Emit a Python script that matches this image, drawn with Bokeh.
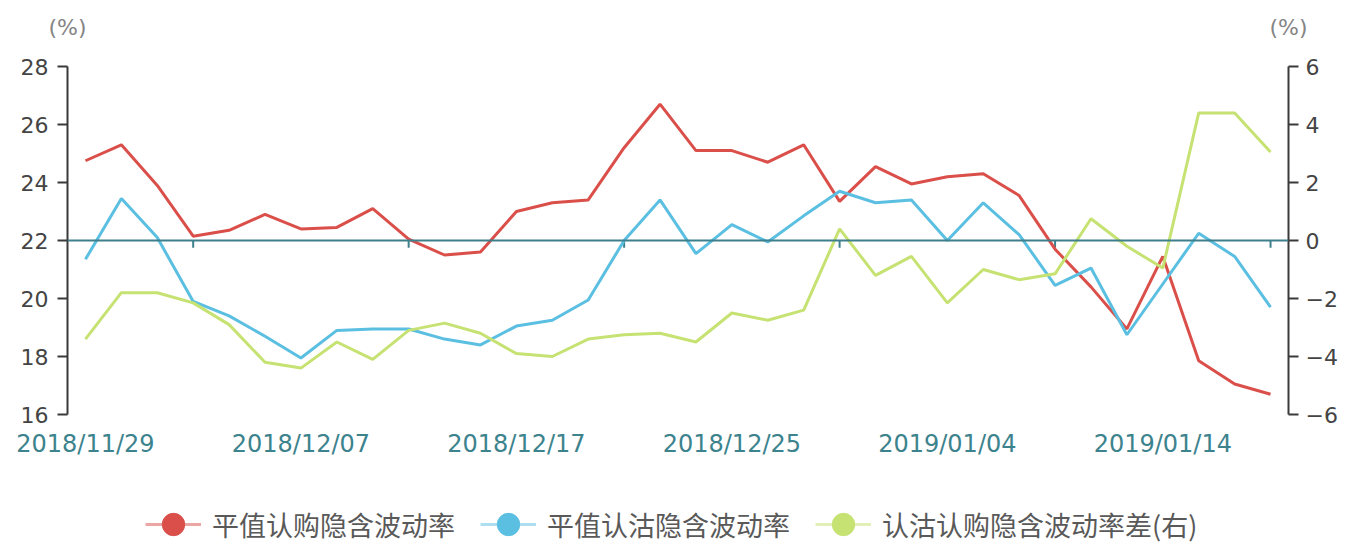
from bokeh.plotting import figure
from bokeh.layouts import column
from bokeh.models import (ColumnDataSource, Range1d, LinearAxis, FixedTicker, Span,
                          Legend, LegendItem)
from bokeh.embed import file_html
from bokeh.resources import INLINE

# ---------------- data ----------------
dates = ["2018/11/29", "2018/11/30", "2018/12/03", "2018/12/04", "2018/12/05", "2018/12/06",
         "2018/12/07", "2018/12/10", "2018/12/11", "2018/12/12", "2018/12/13", "2018/12/14",
         "2018/12/17", "2018/12/18", "2018/12/19", "2018/12/20", "2018/12/21", "2018/12/24",
         "2018/12/25", "2018/12/26", "2018/12/27", "2018/12/28", "2019/01/02", "2019/01/03",
         "2019/01/04", "2019/01/07", "2019/01/08", "2019/01/09", "2019/01/10", "2019/01/11",
         "2019/01/14", "2019/01/15", "2019/01/16", "2019/01/17"]
call_iv = [24.75, 25.3, 23.9, 22.15, 22.35, 22.9, 22.4, 22.45, 23.1, 22.05, 21.5, 21.6,
           23.0, 23.3, 23.4, 25.2, 26.7, 25.1, 25.1, 24.7, 25.3, 23.35, 24.55, 23.95,
           24.2, 24.3, 23.55, 21.7, 20.4, 18.95, 21.45, 17.85, 17.05, 16.7]
put_iv = [21.35, 23.45, 22.1, 19.9, 19.4, 18.7, 17.95, 18.9, 18.95, 18.95, 18.6, 18.4,
          19.05, 19.25, 19.95, 22.0, 23.4, 21.55, 22.55, 21.95, 22.85, 23.7, 23.3, 23.4,
          22.0, 23.3, 22.2, 20.45, 21.05, 18.75, 20.5, 22.25, 21.45, 19.7]
iv_spread = [-3.4, -1.8, -1.8, -2.15, -2.9, -4.2, -4.4, -3.5, -4.1, -3.1, -2.85, -3.2,
             -3.9, -4.0, -3.4, -3.25, -3.2, -3.5, -2.5, -2.75, -2.4, 0.4, -1.2, -0.55,
             -2.15, -1.0, -1.35, -1.15, 0.75, -0.2, -0.95, 4.4, 4.4, 3.05]
left_ticks = [16, 18, 20, 22, 24, 26, 28]
right_ticks = [-6, -4, -2, 0, 2, 4, 6]
legend_names = ["平值认购隐含波动率", "平值认沽隐含波动率", "认沽认购隐含波动率差(右)"]
unit_text = "(%)"
label_step = 6

# ---------------- styling ----------------
RED = "#DA4F4A"
BLUE = "#5BBFE1"
GREEN = "#C6E272"
TEAL = "#3E7F8C"
AXIS = "#3a3a3a"
TXT = "#444444"
W = 1346
ML, MR = 67, 58

idx = list(range(len(dates)))
src = ColumnDataSource(dict(x=idx, call=call_iv, put=put_iv, spread=iv_spread))

lo, hi = left_ticks[0], left_ticks[-1]
rlo, rhi = right_ticks[0], right_ticks[-1]

# ---------------- main chart ----------------
p = figure(width=W, height=460, output_backend="svg", toolbar_location=None,
           x_range=Range1d(-0.5, len(dates) - 0.5), y_range=Range1d(lo, hi),
           min_border_left=ML, min_border_right=MR, min_border_top=66, min_border_bottom=45)
p.outline_line_color = None
p.grid.visible = False
p.background_fill_color = "white"
p.border_fill_color = "white"
p.extra_y_ranges = {"spread": Range1d(rlo, rhi)}
p.extra_x_ranges = {"unit": Range1d(0, 1)}

# x axis (labels only; the axis line is drawn at the 22 / 0 level)
xa = p.xaxis[0]
label_idx = idx[::label_step]
xa.ticker = FixedTicker(ticks=label_idx)
xa.major_label_overrides = {i: dates[i] for i in label_idx}
xa.axis_line_color = None
xa.major_tick_line_color = None
xa.minor_tick_line_color = None
xa.major_label_text_color = "#3C838D"
xa.major_label_text_font = "DejaVu Sans"
xa.major_label_text_font_size = "24px"
xa.major_label_standoff = 9

# unit labels "(%)" above the two value axes
ua = LinearAxis(x_range_name="unit", ticker=FixedTicker(ticks=[0, 1]),
                major_label_overrides={0: unit_text, 1: unit_text})
ua.axis_line_color = None
ua.major_tick_line_color = None
ua.minor_tick_line_color = None
ua.major_tick_out = 0
ua.major_label_text_color = "#858585"
ua.major_label_text_font = "DejaVu Sans"
ua.major_label_text_font_size = "22px"
ua.major_label_standoff = 27
p.add_layout(ua, "above")

# left axis
ya = p.yaxis[0]
ya.ticker = FixedTicker(ticks=left_ticks)
ya.axis_line_color = AXIS
ya.axis_line_width = 2
ya.major_tick_line_color = AXIS
ya.major_tick_line_width = 2
ya.major_tick_out = 10
ya.major_tick_in = 0
ya.minor_tick_line_color = None
ya.major_label_text_color = TXT
ya.major_label_text_font = "DejaVu Sans"
ya.major_label_text_font_size = "22px"
ya.major_label_standoff = 9

# right axis
ra = LinearAxis(y_range_name="spread", ticker=FixedTicker(ticks=right_ticks))
ra.axis_line_color = AXIS
ra.axis_line_width = 2
ra.major_tick_line_color = AXIS
ra.major_tick_line_width = 2
ra.major_tick_out = 10
ra.major_tick_in = 0
ra.minor_tick_line_color = None
ra.major_label_text_color = TXT
ra.major_label_text_font = "DejaVu Sans"
ra.major_label_text_font_size = "22px"
ra.major_label_standoff = 7
p.add_layout(ra, "right")

# horizontal category axis line at 22 / 0, with its tick marks
p.add_layout(Span(location=22, dimension="width", line_color=TEAL, line_width=2))
tick_idx = idx[label_step // 2::label_step]
p.segment(x0=tick_idx, y0=[22] * len(tick_idx), x1=tick_idx, y1=[21.75] * len(tick_idx),
          line_color=TEAL, line_width=2)

# series
p.line("x", "call", source=src, line_color=RED, line_width=3)
p.line("x", "put", source=src, line_color=BLUE, line_width=3)
p.line("x", "spread", source=src, line_color=GREEN, line_width=3, y_range_name="spread")

# ---------------- legend strip ----------------
# its x range lies beside the data, so the legend renderers draw nothing visible here
q = figure(width=W, height=85, output_backend="svg", toolbar_location=None,
           x_axis_location=None, y_axis_location=None, min_border=0,
           x_range=Range1d(len(dates) + 1, len(dates) + 2))
q.outline_line_color = None
q.grid.visible = False
q.background_fill_color = "white"
q.border_fill_color = "white"

items = []
for name, col, color in [(legend_names[0], "call", RED),
                         (legend_names[1], "put", BLUE),
                         (legend_names[2], "spread", GREEN)]:
    seg = q.segment(x0="x", y0=col, x1="x", y1=col, source=src,
                    line_color=color, line_width=3, line_alpha=0.5)
    dot = q.scatter("x", col, source=src, size=22, fill_color=color, line_color=color)
    items.append(LegendItem(label=name, renderers=[seg, dot]))

legend = Legend(items=items, location=(78, -7), orientation="horizontal",
                glyph_width=56, glyph_height=56, label_standoff=11, spacing=25,
                padding=0, margin=0, border_line_color=None, background_fill_alpha=0,
                label_text_font="Noto Sans CJK SC", label_text_font_size="27px",
                label_text_color="#595959")
q.add_layout(legend, "center")

layout = column(p, q, spacing=0)
open("out.html", "w").write(file_html(layout, INLINE))
